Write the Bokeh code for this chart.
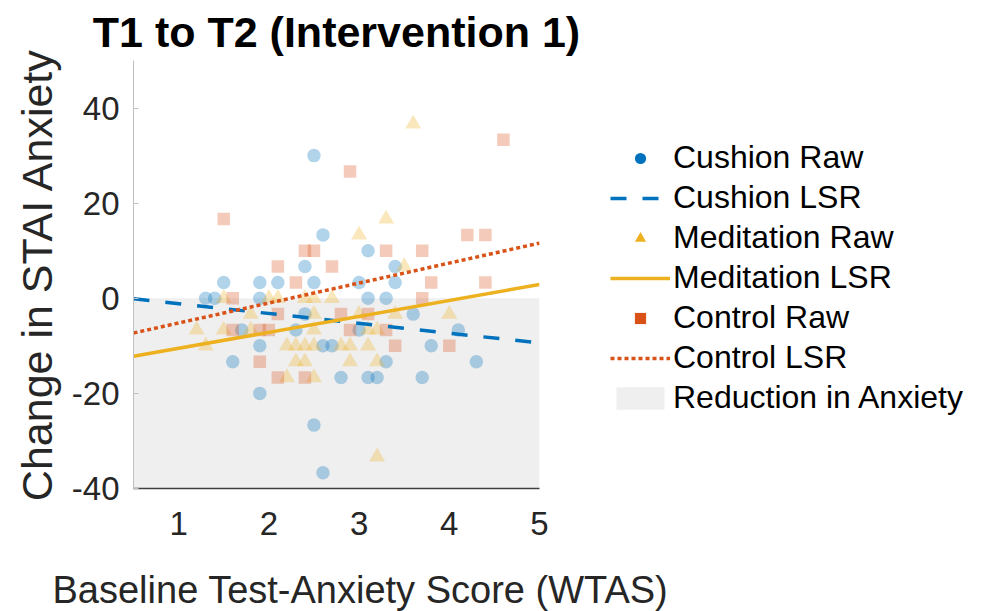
from bokeh.plotting import figure
from bokeh.models import Range1d, FixedTicker, Legend, LegendItem, Title
from bokeh.embed import file_html
from bokeh.resources import INLINE

FONT = "Liberation Sans"

# ---- data ----
cushion_x = [2.5, 2.6, 2.4, 3.1, 3.4,
             1.5, 1.9, 2.1, 2.5, 3.0, 3.4,
             1.3, 1.4, 1.9, 3.1, 3.3,
             3.6, 2.4,
             1.7, 2.3, 3.0, 4.1,
             1.9, 2.6, 2.7, 3.8,
             1.6, 3.3, 4.3,
             2.8, 3.1, 3.2, 3.7,
             1.9, 2.5, 2.6]
cushion_y = [30, 13.33, 6.67, 10, 6.67,
             3.33, 3.33, 3.33, 3.33, 3.33, 3.33,
             0, 0, 0, 0, 0,
             -3.33, -3.33,
             -6.67, -6.67, -6.67, -6.67,
             -10, -10, -10, -10,
             -13.33, -13.33, -13.33,
             -16.67, -16.67, -16.67, -16.67,
             -20, -26.67, -36.67]

meditation_x = [3.6, 3.3, 3.0, 3.5,
                1.5, 2.0, 2.1, 2.4, 2.5, 2.7,
                1.8, 2.5, 3.0, 3.4, 4.0,
                1.2, 1.5, 1.8, 2.5, 3.1, 3.2,
                1.3, 2.2, 2.3, 2.4, 2.5, 2.8, 2.9, 3.1,
                2.3, 2.4, 2.9, 3.2,
                2.2, 2.5,
                3.2]
meditation_y = [36.67, 16.67, 13.33, 6.67,
                0, 0, 0, 0, 0, 0,
                -3.33, -3.33, -3.33, -3.33, -3.33,
                -6.67, -6.67, -6.67, -6.67, -6.67, -6.67,
                -10, -10, -10, -10, -10, -10, -10, -10,
                -13.33, -13.33, -13.33, -13.33,
                -16.67, -16.67,
                -33.33]

control_x = [4.6, 2.9, 1.5,
             4.2, 4.4,
             2.4, 2.5, 3.3, 3.7,
             2.1, 2.7,
             2.3, 3.8, 4.4,
             1.6, 3.7,
             2.1, 2.8, 3.1,
             1.6, 1.9, 2.0, 2.9, 3.3,
             3.4, 4.0,
             1.9,
             2.1, 2.4]
control_y = [33.33, 26.67, 16.67,
             13.33, 13.33,
             10, 10, 10, 10,
             6.67, 6.67,
             3.33, 3.33, 3.33,
             0, 0,
             -3.33, -3.33, -3.33,
             -6.67, -6.67, -6.67, -6.67, -6.67,
             -10, -10,
             -13.33,
             -16.67, -16.67]

# least-squares regression lines (end points)
lsr_x = [0.5, 5.0]
cushion_lsr = [-0.1, -9.4]
meditation_lsr = [-12.2, 2.9]
control_lsr = [-7.3, 11.6]

# reduction-in-anxiety region
region_x = [0.5, 5.0]
region_top = [0, 0]
region_bottom = [-40, -40]

x_ticks = [1, 2, 3, 4, 5]
y_ticks = [-40, -20, 0, 20, 40]

BLUE, YELLOW, ORANGE = "#0072BD", "#EDB120", "#D95319"
NAN = float("nan")

p = figure(frame_width=406, frame_height=428, output_backend="svg", toolbar_location=None,
           x_range=Range1d(0.5, 5), y_range=Range1d(-40, 50),
           min_border_left=133, min_border_right=80, min_border_top=60,
           min_border_bottom=123)

p.title.text = "T1 to T2 (Intervention 1)"
p.title.text_font = FONT
p.title.text_font_size = "43px"
p.title.text_font_style = "bold"
p.title.text_color = "#000000"
p.title.align = "center"
p.title.standoff = 10

p.grid.visible = False
p.outline_line_color = None
p.background_fill_color = "white"

region = p.varea(x=region_x, y1=region_bottom, y2=region_top, fill_color="#EFEFEF")

p.scatter(cushion_x, cushion_y, marker="circle", size=13.5, fill_color=BLUE,
          fill_alpha=0.3, line_color=None)
p.scatter(meditation_x, meditation_y, marker="triangle", size=16, fill_color=YELLOW,
          fill_alpha=0.3, line_color=None)
p.scatter(control_x, control_y, marker="square", size=12.5, fill_color=ORANGE,
          fill_alpha=0.3, line_color=None)

l_c = p.line(lsr_x, cushion_lsr, line_color=BLUE, line_width=3.5, line_dash="16 16")
l_m = p.line(lsr_x, meditation_lsr, line_color=YELLOW, line_width=3.5)
l_o = p.line(lsr_x, control_lsr, line_color=ORANGE, line_width=3.5, line_dash="4 3")

# legend-only markers (NaN positions: not drawn in the plot)
k_c = p.scatter([NAN], [NAN], marker="circle", fill_color=BLUE, line_color=None)
k_m = p.scatter([NAN], [NAN], marker="triangle", fill_color=YELLOW, line_color=None)
k_o = p.scatter([NAN], [NAN], marker="square", fill_color=ORANGE, line_color=None)

legend = Legend(items=[
    LegendItem(label="Cushion Raw", renderers=[k_c]),
    LegendItem(label="Cushion LSR", renderers=[l_c]),
    LegendItem(label="Meditation Raw", renderers=[k_m]),
    LegendItem(label="Meditation LSR", renderers=[l_m]),
    LegendItem(label="Control Raw", renderers=[k_o]),
    LegendItem(label="Control LSR", renderers=[l_o]),
    LegendItem(label="Reduction in Anxiety", renderers=[region]),
], location=(71, 72))
legend.border_line_color = None
legend.background_fill_alpha = 0
legend.padding = 0
legend.margin = 0
legend.spacing = 3
legend.glyph_width = 60
legend.glyph_height = 28
legend.label_height = 30
legend.label_standoff = 3
legend.label_text_font = FONT
legend.label_text_font_size = "32px"
legend.label_text_color = "#000000"
p.add_layout(legend, "right")

for ax in (p.xaxis, p.yaxis):
    ax.major_label_text_font = FONT
    ax.major_label_text_font_size = "33px"
    ax.major_label_text_color = "#262626"
    ax.minor_tick_line_color = None
    ax.major_tick_out = 0

p.xaxis.ticker = FixedTicker(ticks=x_ticks)
p.yaxis.ticker = FixedTicker(ticks=y_ticks)
p.yaxis.major_label_overrides = {t: str(t) for t in y_ticks}
p.xaxis.major_tick_in = 0
p.xaxis.axis_line_color = "#404040"
p.xaxis.axis_line_width = 1.5
p.xaxis.major_label_standoff = 23
p.yaxis.major_tick_in = 5
p.yaxis.major_tick_line_color = "#C0C0C0"
p.yaxis.axis_line_color = "#C0C0C0"
p.yaxis.major_label_standoff = 14

p.yaxis.axis_label = "Change in STAI Anxiety"
p.yaxis.axis_label_text_font = FONT
p.yaxis.axis_label_text_font_size = "43px"
p.yaxis.axis_label_text_font_style = "normal"
p.yaxis.axis_label_text_color = "#262626"
p.yaxis.axis_label_standoff = 8

xlab = Title(text="Baseline Test-Anxiety Score (WTAS)", align="left", offset=-81,
             standoff=59, text_font=FONT, text_font_size="38px",
             text_font_style="normal", text_color="#262626")
p.add_layout(xlab, "below")

open("out.html", "w").write(file_html(p, INLINE))
